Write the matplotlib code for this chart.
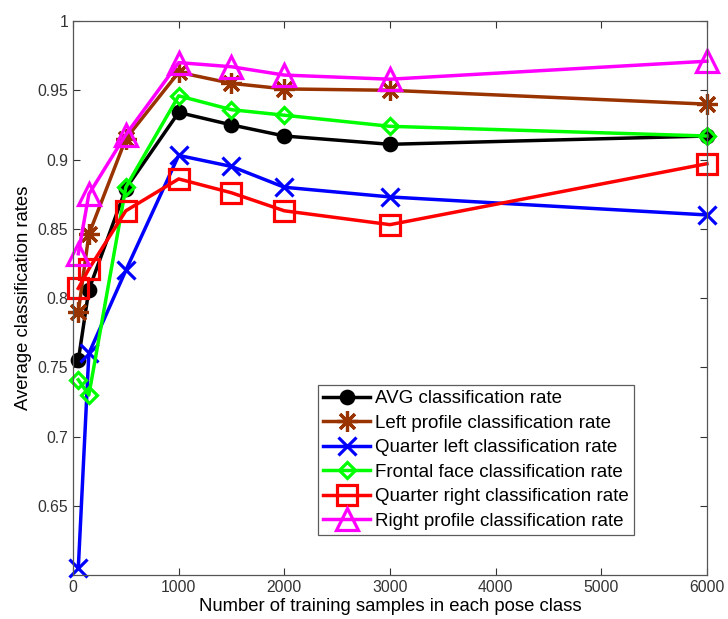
import matplotlib
matplotlib.use("Agg")
import matplotlib.pyplot as plt

plt.rcParams['font.family'] = ['Liberation Sans', 'DejaVu Sans']

samples = [50, 150, 500, 1000, 1500, 2000, 3000, 6000]
avg_rate = [0.755, 0.806, 0.879, 0.934, 0.925, 0.917, 0.911, 0.917]
left_profile = [0.790, 0.846, 0.915, 0.963, 0.955, 0.951, 0.950, 0.940]
quarter_left = [0.605, 0.760, 0.820, 0.903, 0.895, 0.880, 0.873, 0.860]
frontal = [0.741, 0.730, 0.880, 0.946, 0.936, 0.932, 0.924, 0.917]
quarter_right = [0.807, 0.821, 0.863, 0.886, 0.876, 0.863, 0.853, 0.897]
right_profile = [0.832, 0.875, 0.918, 0.970, 0.967, 0.961, 0.958, 0.971]

series = [
    ("AVG classification rate", avg_rate, "black", "o", 9),
    ("Left profile classification rate", left_profile, "#993300", (8, 2, 0), 15),
    ("Quarter left classification rate", quarter_left, "#0000ff", "x", 13),
    ("Frontal face classification rate", frontal, "#00ff00", "D", 8),
    ("Quarter right classification rate", quarter_right, "#ff0000", "s", 14),
    ("Right profile classification rate", right_profile, "#ff00ff", "^", 16),
]

fig = plt.figure(figsize=(7.28, 6.19), dpi=100)
ax = fig.add_axes([0.1003, 0.071, 0.8707, 0.895])

for label, vals, color, marker, ms in series:
    filled = marker == "o"
    ax.plot(samples, vals, color=color, linewidth=2.5, marker=marker,
            markersize=ms, markeredgewidth=2.3,
            markerfacecolor=color if filled else "none",
            markeredgecolor=color, label=label, clip_on=False)

ax.set_xlim(0, 6000)
ax.set_ylim(0.6, 1.0)
ax.set_xticks([0, 1000, 2000, 3000, 4000, 5000, 6000])
ax.set_yticks([0.65, 0.7, 0.75, 0.8, 0.85, 0.9, 0.95, 1.0])
ax.set_yticklabels(["0.65", "0.7", "0.75", "0.8", "0.85", "0.9", "0.95", "1"])
ax.tick_params(direction="in", top=True, right=True, length=5, width=0.8,
               labelsize=11.3, labelcolor="#333333", color="#333333")
for s in ax.spines.values():
    s.set_color("#555555")
    s.set_linewidth(0.9)

ax.set_xlabel("Number of training samples in each pose class", fontsize=13.3, labelpad=2)
ax.set_ylabel("Average classification rates", fontsize=13.3, labelpad=4)

leg = ax.legend(loc="lower left", bbox_to_anchor=(0.386, 0.072), fontsize=13.5,
                frameon=True, fancybox=False, edgecolor="#333333",
                handlelength=2.5, handletextpad=0.25, borderpad=0.3,
                labelspacing=0.39, borderaxespad=0)
leg.get_frame().set_linewidth(0.9)

fig.savefig("out.png", dpi=100)
